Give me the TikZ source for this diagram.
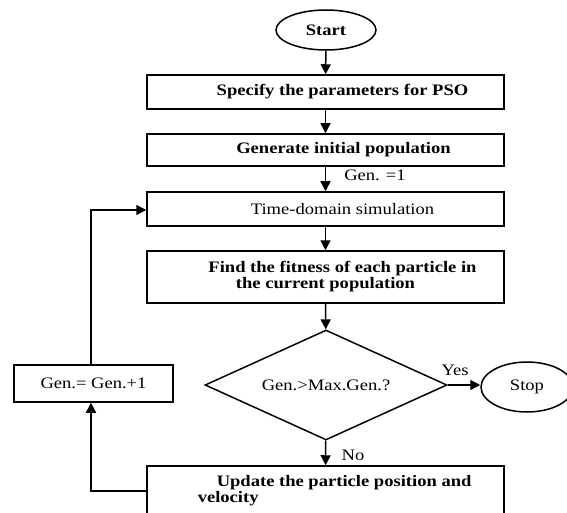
\documentclass[tikz,border=0pt]{standalone}
\usepackage{fontspec}
\setmainfont[FakeStretch=1.16]{Liberation Serif}
\usetikzlibrary{arrows.meta,shapes.geometric}
\begin{document}
\begin{tikzpicture}[x=1pt,y=-1pt,
  line width=1.5pt,
  every node/.style={font=\fontsize{16}{16}\selectfont},
  stepbox/.style={draw,rectangle,minimum width=357pt,inner sep=0pt},
  term/.style={draw,ellipse,inner sep=0pt},
  decision/.style={draw,diamond,aspect=2.2,inner sep=0pt,minimum width=242pt,minimum height=110pt},
  arr/.style={-{Triangle[length=10pt,width=10pt]}},
  tag/.style={inner sep=0pt}]
  % page area
  \fill[white] (0,0) rectangle (567,513);
  \useasboundingbox (0,0) rectangle (567,513);

  % main column
  \node[term,minimum width=100pt,minimum height=40pt,font=\fontsize{16}{16}\selectfont\bfseries] (start) at (326,30) {Start};
  \node[stepbox,minimum height=34pt,font=\fontsize{16}{16}\selectfont\bfseries] (spec) at (325.5,92) {\hspace*{34pt}Specify the parameters for PSO};
  \node[stepbox,minimum height=32pt,font=\fontsize{16}{16}\selectfont\bfseries] (gen) at (325.5,150) {\hspace*{36pt}Generate initial population};
  \node[stepbox,minimum height=34pt] (sim) at (325.5,209) {\hspace*{34pt}Time-domain simulation};
  \node[stepbox,minimum height=52pt,align=center,font=\fontsize{16}{16}\selectfont\bfseries] (fit) at (325.5,277) {\hspace*{34pt}Find the fitness of each particle in\\the current population};
  \node[decision] (dec) at (326,385) {Gen.>Max.Gen.?};
  \node[term,minimum width=92pt,minimum height=50pt] (stop) at (527,387) {Stop};
  \node[stepbox,minimum height=50pt] (upd) at (325.5,491) {};
  \node[tag,anchor=west,align=left,font=\fontsize{16}{16}\selectfont\bfseries] (updtext) at (197,491) {\hspace*{19pt}Update the particle position and\\velocity};

  % counter box on the left
  \node[stepbox,minimum width=159pt,minimum height=37pt] (inc) at (93.5,383.5) {Gen.= Gen.+1};

  % connectors
  \draw[arr] (start) -- (spec);
  \draw[arr] (spec) -- (gen);
  \draw[arr] (gen) -- (sim);
  \node[tag] (g1) at (375,175) {Gen. =1};
  \draw[arr] (sim) -- (fit);
  \draw[arr] (fit) -- (dec);
  \draw[arr] (dec.east) -- (dec.east -| stop.west);
  \node[tag] (yes) at (455,370) {Yes};
  \draw[arr] (dec) -- (upd);
  \node[tag] (no) at (353,455) {No};

  % feedback loop
  \coordinate (lb) at (91,491);
  \coordinate (lt) at (91,210);
  \draw[arr] (upd.west) -- (lb) -- (inc.south -| lb);
  \draw[arr] (inc.north -| lt) -- (lt) -- (sim.west |- lt);
\end{tikzpicture}
\end{document}
